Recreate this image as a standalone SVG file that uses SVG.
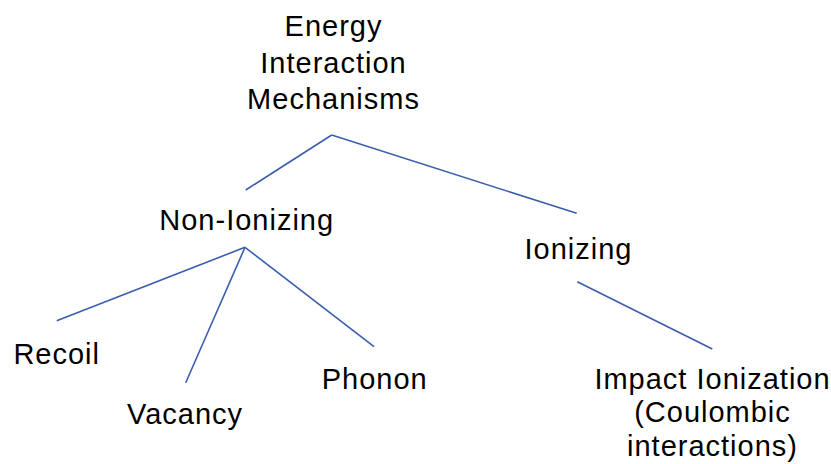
<svg xmlns="http://www.w3.org/2000/svg" width="831" height="464" viewBox="0 0 831 464">
<style>
.t{font-family:"Liberation Sans",Arial,sans-serif;font-size:29px;fill:#000;text-anchor:middle;letter-spacing:1px}
.c line{stroke:#3A5DAE;stroke-width:1.6;fill:none}
</style>
<rect width="831" height="464" fill="#fff"/>
<g class="c" id="connectors">
<line x1="331.7" y1="135" x2="245.7" y2="190"/>
<line x1="331.7" y1="135" x2="576.7" y2="213.3"/>
<line x1="245" y1="247.3" x2="56.7" y2="320.7"/>
<line x1="245" y1="247.3" x2="185.7" y2="382.7"/>
<line x1="245" y1="247.3" x2="374" y2="346.7"/>
<line x1="577.3" y1="281.7" x2="712.3" y2="349"/>
</g>
<g id="root"><text class="t" x="333.5" y="35.5">Energy</text><text class="t" x="333.5" y="72.5">Interaction</text><text class="t" x="333.5" y="109">Mechanisms</text></g>
<g id="nonionizing"><text class="t" x="246.7" y="230">Non-Ionizing</text></g>
<g id="ionizing"><text class="t" x="578.5" y="259">Ionizing</text></g>
<g id="recoil"><text class="t" x="56.7" y="363.5">Recoil</text></g>
<g id="vacancy"><text class="t" x="185" y="424">Vacancy</text></g>
<g id="phonon"><text class="t" x="374.7" y="388.5">Phonon</text></g>
<g id="impact"><text class="t" x="712.5" y="388.5">Impact Ionization</text><text class="t" x="712.5" y="422">(Coulombic</text><text class="t" x="712.5" y="455.5">interactions)</text></g>
</svg>
